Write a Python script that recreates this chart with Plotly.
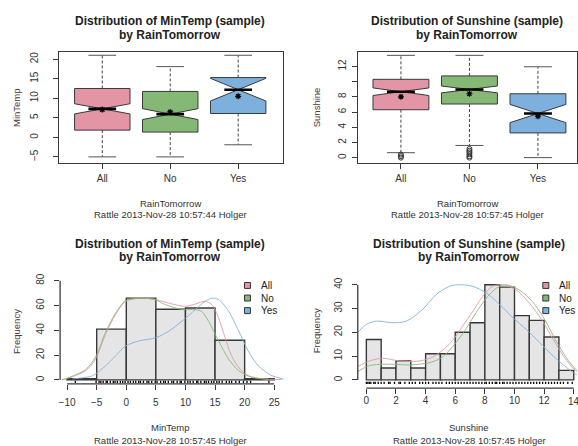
import plotly.graph_objects as go

# ---------------- data ----------------
categories = ["All", "No", "Yes"]
group_colors = ["#E495A5", "#86B875", "#7DB0DD"]

# MinTemp box statistics by RainTomorrow
mt_lower = [-5.0, -5.0, -1.9]
mt_q1 = [1.85, 1.35, 6.1]
mt_median = [7.3, 5.95, 12.2]
mt_q3 = [12.5, 11.75, 15.3]
mt_upper = [21.0, 18.1, 21.0]
mt_notch = [1.3, 1.4, 2.9]
mt_mean = [7.1, 6.5, 10.5]

# Sunshine box statistics by RainTomorrow
ss_lower = [0.65, 1.6, 0.0]
ss_q1 = [6.3, 7.05, 3.25]
ss_median = [8.67, 8.97, 5.8]
ss_q3 = [10.3, 10.75, 8.4]
ss_upper = [13.45, 13.45, 11.95]
ss_notch = [0.5, 0.45, 1.2]
ss_mean = [8.0, 8.4, 5.45]
ss_outliers = [[0.0, 0.2, 0.4], [0.0, 0.2, 0.45, 0.7, 0.9, 1.15], []]

# MinTemp histogram
mt_edges = [-10, -5, 0, 5, 10, 15, 20, 25]
mt_counts = [1, 41, 66, 57, 58, 32, 1]
mt_dens_all_x = [-10.9, -10.2, -6.85, -5.2, -3.5, -1.8, -0.1, 2.7, 5.0, 7.7, 10.0, 11.7, 13.3, 14.5, 15.6, 16.7, 17.8, 19.2, 20.6, 22.9, 26.3]
mt_dens_all_y = [0.2, 0.8, 7.4, 16.8, 36.8, 52.8, 63.4, 66.0, 64.8, 61.3, 59.4, 61.3, 63.4, 60.6, 50.0, 34.0, 19.4, 8.8, 3.5, 0.8, 0.3]
mt_dens_no_x = [-10.9, -10.2, -6.85, -5.2, -3.5, -1.8, -0.1, 2.7, 5.0, 6.6, 9.4, 11.7, 12.8, 13.9, 15.6, 17.3, 19.0, 21.2, 24.0]
mt_dens_no_y = [0.3, 1.0, 8.4, 18.5, 38.5, 54.0, 64.0, 66.0, 64.5, 60.8, 56.8, 56.8, 55.0, 47.4, 31.4, 16.8, 7.4, 2.1, 0.8]
mt_dens_yes_x = [-9.1, -5.7, -3.5, -1.8, -0.1, 2.1, 5.0, 7.2, 9.4, 11.7, 13.3, 14.5, 15.6, 17.3, 19.0, 20.6, 22.3, 24.6, 26.6]
mt_dens_yes_y = [0.8, 3.4, 11.4, 19.4, 27.4, 31.4, 34.0, 39.4, 47.4, 56.8, 63.4, 66.0, 64.8, 55.4, 39.4, 23.4, 11.4, 3.4, 0.8]
mt_rug = [-8.6, -5.1, -4.6, -4.3, -3.9, -3.4, -3.2, -2.7, -2.2, -1.9, -1.5, -1.0, -0.6, -0.2, 0.3, 0.7, 1.2, 1.6, 2.1,
          2.4, 2.9, 3.5, 3.8, 4.3, 4.9, 5.2, 5.8, 6.3, 6.6, 7.1, 7.7, 8.0, 8.6, 9.1, 9.3, 9.9, 10.4, 10.8, 11.3,
          11.9, 12.1, 12.6, 13.2, 13.5, 13.9, 14.4, 14.8, 15.3, 15.7, 16.2, 16.9, 17.4, 17.8, 18.5, 19.1, 19.8,
          20.4, 21.0, 24.1]

# Sunshine histogram
ss_edges = [0, 1, 2, 3, 4, 5, 6, 7, 8, 9, 10, 11, 12, 13, 14]
ss_counts = [17, 5, 8, 5, 11, 11, 20, 24, 40, 39, 27, 25, 18, 4]
ss_dens_all_x = [-0.67, 0.22, 1.1, 2.2, 3.4, 4.3, 5.1, 5.8, 6.5, 7.2, 7.85, 8.5, 9.2, 10.1, 11.0, 11.9, 12.6, 13.3, 14.0, 14.3]
ss_dens_all_y = [5.3, 8.0, 9.1, 8.0, 7.8, 9.1, 12.2, 16.4, 22.6, 28.9, 35.1, 39.3, 40.0, 37.9, 32.3, 24.7, 17.1, 10.1, 4.6, 3.2]
ss_dens_no_x = [-0.67, 0.22, 1.6, 3.0, 4.3, 5.1, 6.05, 6.7, 7.4, 8.1, 8.8, 9.4, 10.3, 11.2, 12.1, 12.8, 13.5, 14.1, 14.3]
ss_dens_no_y = [3.2, 6.0, 6.6, 6.3, 7.3, 9.4, 15.7, 21.2, 28.2, 34.4, 38.6, 40.0, 37.9, 33.0, 24.7, 16.4, 9.4, 4.6, 3.8]
ss_dens_yes_x = [-0.67, 0.0, 0.67, 1.8, 2.7, 3.8, 4.7, 5.6, 6.3, 7.2, 8.1, 9.0, 9.9, 10.8, 11.7, 12.6, 13.5, 14.1, 14.3]
ss_dens_yes_y = [19.4, 23.3, 24.7, 24.0, 24.7, 29.6, 35.8, 39.3, 40.0, 39.3, 36.5, 31.7, 26.1, 21.2, 15.7, 10.1, 5.3, 2.5, 2.1]
ss_rug = [0.0, 0.1, 0.2, 0.3, 0.5, 0.6, 0.8, 1.0, 1.2, 1.5, 1.6, 1.9, 2.2, 2.3, 2.6, 2.9, 3.1, 3.3, 3.6, 3.8, 4.0,
          4.2, 4.5, 4.7, 4.9, 5.1, 5.4, 5.6, 5.8, 6.0, 6.2, 6.4, 6.6, 6.8, 7.0, 7.2, 7.4, 7.6, 7.8, 8.0, 8.1, 8.3,
          8.5, 8.7, 8.8, 9.0, 9.2, 9.3, 9.5, 9.7, 9.9, 10.1, 10.3, 10.5, 10.7, 10.9, 11.1, 11.3, 11.5, 11.7, 11.9,
          12.1, 12.3, 12.5, 12.7, 12.9, 13.1, 13.3, 13.6, 13.9]

mt_hist_ticks = [-10, -5, 0, 5, 10, 15, 20, 25]
mt_freq_ticks = [0, 20, 40, 60, 80]
ss_hist_ticks = [0, 2, 4, 6, 8, 10, 12, 14]
ss_freq_ticks = [0, 10, 20, 30, 40]
mt_box_ticks = [-5, 0, 5, 10, 15, 20]
ss_box_ticks = [0, 2, 4, 6, 8, 10, 12]
ss_box_ticktext = ["0", "2", "4", "6", "8", "", "12"]

# ---------------- styling ----------------
FONT = "Liberation Sans, Arial, sans-serif"
W, H = 578, 446
BOXW = 0.816
EDGE = "#3a3a3a"

fig = go.Figure()


def add_boxplot(ax, lower, q1, med, q3, upper, notch, mean, outliers=None):
    xa, ya = "x" + ax, "y" + ax
    for i, c in enumerate(categories):
        fig.add_trace(go.Box(
            x=[i], q1=[q1[i]], median=[med[i]], q3=[q3[i]],
            lowerfence=[q1[i]], upperfence=[q3[i]], notchspan=[notch[i]],
            notched=True, notchwidth=0.5, width=BOXW, whiskerwidth=0,
            fillcolor=group_colors[i], line=dict(color=EDGE, width=1),
            boxpoints=False, hoverinfo="skip", showlegend=False,
            xaxis=xa, yaxis=ya))
    wx, wy, cx, cy, mx, my = [], [], [], [], [], []
    half_cap = BOXW * 0.25
    for i in range(len(categories)):
        wx += [i, i, None, i, i, None]
        wy += [q3[i], upper[i], None, q1[i], lower[i], None]
        cx += [i - half_cap, i + half_cap, None, i - half_cap, i + half_cap, None]
        cy += [upper[i], upper[i], None, lower[i], lower[i], None]
        mx += [i - half_cap, i + half_cap, None]
        my += [med[i], med[i], None]
    fig.add_trace(go.Scatter(x=wx, y=wy, mode="lines", line=dict(color="#444", width=1, dash="3px,2px"),
                             showlegend=False, hoverinfo="skip", xaxis=xa, yaxis=ya))
    fig.add_trace(go.Scatter(x=cx, y=cy, mode="lines", line=dict(color="#555", width=1),
                             showlegend=False, hoverinfo="skip", xaxis=xa, yaxis=ya))
    fig.add_trace(go.Scatter(x=mx, y=my, mode="lines", line=dict(color="black", width=2.6),
                             showlegend=False, hoverinfo="skip", xaxis=xa, yaxis=ya))
    fig.add_trace(go.Scatter(x=list(range(len(categories))), y=mean, mode="markers",
                             marker=dict(symbol="asterisk-open", size=5, color="black", line=dict(width=1.2, color="black")),
                             showlegend=False, hoverinfo="skip", xaxis=xa, yaxis=ya))
    fig.add_trace(go.Scatter(x=list(range(len(categories))), y=mean, mode="markers",
                             marker=dict(symbol="circle", size=3.5, color="black"),
                             showlegend=False, hoverinfo="skip", xaxis=xa, yaxis=ya))
    if outliers:
        ox, oy = [], []
        for i, vals in enumerate(outliers):
            ox += [i] * len(vals)
            oy += vals
        fig.add_trace(go.Scatter(x=ox, y=oy, mode="markers",
                                 marker=dict(symbol="circle-open", size=5, color="#333", line=dict(width=1)),
                                 showlegend=False, hoverinfo="skip", xaxis=xa, yaxis=ya))


def add_hist(ax, edges, counts, dens, rug, rug_y):
    xa, ya = "x" + ax, "y" + ax
    mids = [(edges[k] + edges[k + 1]) / 2 for k in range(len(counts))]
    widths = [edges[k + 1] - edges[k] for k in range(len(counts))]
    fig.add_trace(go.Bar(x=mids, y=counts, width=widths, marker=dict(color="#E5E5E5", line=dict(color=EDGE, width=1.4)),
                         showlegend=False, hoverinfo="skip", xaxis=xa, yaxis=ya))
    for (dx, dy), col in zip(dens, group_colors):
        fig.add_trace(go.Scatter(x=dx, y=dy, mode="lines", line=dict(color=col, width=1, shape="spline", smoothing=0.8),
                                 opacity=0.85, showlegend=False, hoverinfo="skip", xaxis=xa, yaxis=ya))
    fig.add_trace(go.Scatter(x=rug, y=[rug_y] * len(rug), mode="markers",
                             marker=dict(symbol="line-ns-open", size=1.6, color="black", line=dict(width=1.3, color="black")),
                             showlegend=False, hoverinfo="skip", xaxis=xa, yaxis=ya))


add_boxplot("", mt_lower, mt_q1, mt_median, mt_q3, mt_upper, mt_notch, mt_mean)
add_boxplot("2", ss_lower, ss_q1, ss_median, ss_q3, ss_upper, ss_notch, ss_mean, ss_outliers)

mt_yrange = [-3.2, 83.2]
ss_yrange = [-3.5, 41.6]
add_hist("3", mt_edges, mt_counts,
         [(mt_dens_all_x, mt_dens_all_y), (mt_dens_no_x, mt_dens_no_y), (mt_dens_yes_x, mt_dens_yes_y)],
         mt_rug, mt_yrange[0] * 0.5)
add_hist("4", ss_edges, ss_counts,
         [(ss_dens_all_x, ss_dens_all_y), (ss_dens_no_x, ss_dens_no_y), (ss_dens_yes_x, ss_dens_yes_y)],
         ss_rug, ss_yrange[0] * 0.35)

tickfont = dict(family=FONT, size=10, color="#333")


def xaxis(domain, rng, tickvals, ticktext=None, frame=False, anchor="y", standoff=4):
    d = dict(domain=domain, range=rng, tickvals=tickvals, ticks="outside", ticklen=5, tickcolor=EDGE,
             tickwidth=1, tickfont=tickfont, showgrid=False, zeroline=False, anchor=anchor,
             ticklabelstandoff=standoff)
    if ticktext is not None:
        d["ticktext"] = ticktext
    if frame:
        d.update(showline=True, mirror=True, linecolor=EDGE, linewidth=1.3)
    else:
        d.update(showline=False)
    return d


def yaxis(domain, rng, tickvals, ticktext=None, frame=False, anchor="x", standoff=8):
    d = dict(domain=domain, range=rng, tickvals=tickvals, ticks="outside", ticklen=5, tickcolor=EDGE,
             tickwidth=1, tickfont=tickfont, showgrid=False, zeroline=False, anchor=anchor,
             tickangle=-90, ticklabelstandoff=standoff)
    if ticktext is not None:
        d["ticktext"] = ticktext
    if frame:
        d.update(showline=True, mirror=True, linecolor=EDGE, linewidth=1.3)
    else:
        d.update(showline=False)
    return d


top_y = [1 - 160 / H, 1 - 48 / H]
fig.update_layout(
    width=W, height=H, margin=dict(l=0, r=0, t=0, b=0),
    paper_bgcolor="white", plot_bgcolor="white", boxmode="overlay", barmode="overlay",
    font=dict(family=FONT),
    xaxis=xaxis([58 / W, 283 / W], [-0.64, 2.66], [0, 1, 2], categories, frame=True, anchor="y", standoff=1),
    yaxis=yaxis(top_y, [-6.45, 21.95], mt_box_ticks, frame=True, anchor="x", standoff=11),
    xaxis2=xaxis([358 / W, 1.0], [-0.63, 2.57], [0, 1, 2], categories, frame=True, anchor="y2", standoff=1),
    yaxis2=yaxis(top_y, [-0.65, 13.95], ss_box_ticks, ss_box_ticktext, frame=True, anchor="x2", standoff=2),
    xaxis3=xaxis([59.3 / W, 283.7 / W], [-11.18, 26.6], mt_hist_ticks, anchor="y3", standoff=4),
    yaxis3=yaxis([1 - 383.3 / H, 1 - 275.3 / H], mt_yrange, mt_freq_ticks, anchor="x3", standoff=6),
    xaxis4=xaxis([358 / W, 1.0], [-0.58, 14.22], ss_hist_ticks, anchor="y4", standoff=-2),
    yaxis4=yaxis([1 - 387.7 / H, 1 - 279.4 / H], ss_yrange, ss_freq_ticks, anchor="x4", standoff=6),
)

# axis lines for the histograms (span first to last tick, as in base R)
shapes = []
for ax, xt, yt in [("3", mt_hist_ticks, mt_freq_ticks), ("4", ss_hist_ticks, ss_freq_ticks)]:
    shapes.append(dict(type="line", xref="x" + ax, yref="y" + ax + " domain", x0=xt[0], x1=xt[-1], y0=0, y1=0,
                       line=dict(color=EDGE, width=1.3)))
    shapes.append(dict(type="line", xref="x" + ax + " domain", yref="y" + ax, x0=0, x1=0, y0=yt[0], y1=yt[-1],
                       line=dict(color=EDGE, width=1.3)))

# legends (filled squares) for the histograms
annotations = []
for sx, tx in [(247.3, 259), (546.7, 558.3)]:
    for k, (lab, col) in enumerate(zip(categories, group_colors)):
        cy = 284 + k * 12.7
        shapes.append(dict(type="rect", xref="paper", yref="paper",
                           x0=(sx - 3) / W, x1=(sx + 3) / W, y0=1 - (cy + 3) / H, y1=1 - (cy - 3) / H,
                           fillcolor=col, line=dict(color="#333", width=1)))
        annotations.append(dict(text=lab, x=tx / W, y=1 - cy / H, xref="paper", yref="paper",
                                xanchor="left", yanchor="middle", showarrow=False,
                                font=dict(family=FONT, size=10, color="#222")))

# last sunshine tick label, partly cut by the window edge as in the original
annotations.append(dict(text=str(ss_hist_ticks[-1]), x=ss_hist_ticks[-1], y=1 - 401.5 / H, xref="x4", yref="paper",
                        xanchor="center", yanchor="middle", showarrow=False, font=tickfont))


def ann(text, px, py, size=9, bold=False, angle=0, color="#333"):
    annotations.append(dict(text=("<b>%s</b>" % text) if bold else text, x=px / W, y=1 - py / H,
                            xref="paper", yref="paper", xanchor="center", yanchor="middle",
                            showarrow=False, textangle=angle,
                            font=dict(family=FONT, size=size, color=color)))


stamp1 = "Rattle 2013-Nov-28 10:57:44 Holger"
stamp2 = "Rattle 2013-Nov-28 10:57:45 Holger"
# top-left
ann("Distribution of MinTemp (sample)", 170, 16.7, 12, True, color="#222")
ann("by RainTomorrow", 170, 31.7, 12, True, color="#222")
ann("MinTemp", 15, 104, 9.5, angle=-90, color="#4a3838")
ann("RainTomorrow", 170, 201.7, 9.5)
ann(stamp1, 170, 212.5, 9.5)
# top-right
ann("Distribution of Sunshine (sample)", 468, 16.7, 12, True, color="#222")
ann("by RainTomorrow", 468, 31.7, 12, True, color="#222")
ann("Sunshine", 316.3, 104, 9.5, angle=-90, color="#4a3838")
ann("RainTomorrow", 468, 201.7, 9.5)
ann(stamp2, 468, 212.5, 9.5)
# bottom-left
ann("Distribution of MinTemp (sample)", 170, 241.7, 12, True, color="#222")
ann("by RainTomorrow", 170, 255.5, 12, True, color="#222")
ann("Frequency", 15, 330, 9.5, angle=-90, color="#4a3838")
ann("MinTemp", 170, 427.3, 9.5)
ann(stamp2, 170, 440, 9.5)
# bottom-right
ann("Distribution of Sunshine (sample)", 469.7, 241.7, 12, True, color="#222")
ann("by RainTomorrow", 469.7, 255.5, 12, True, color="#222")
ann("Frequency", 316.3, 330, 9.5, angle=-90, color="#4a3838")
ann("Sunshine", 469.7, 427.3, 9.5)
ann(stamp2, 469.7, 440, 9.5)

fig.update_layout(shapes=shapes, annotations=annotations)
fig.write_html("out.html")
